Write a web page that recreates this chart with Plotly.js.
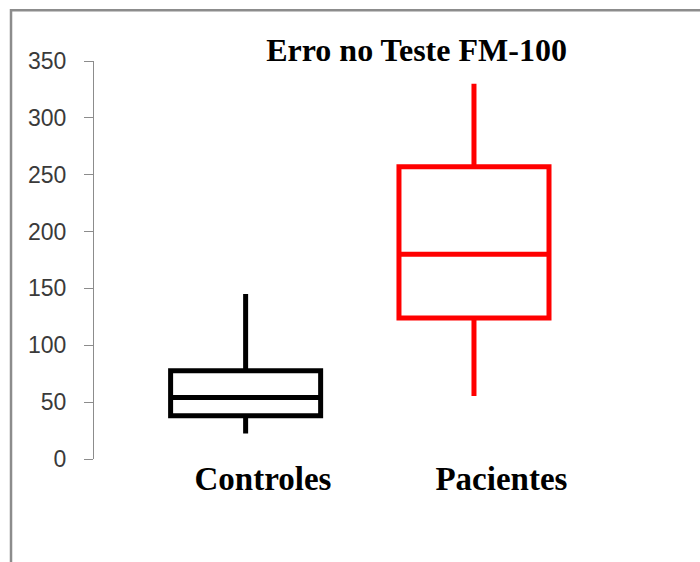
<!DOCTYPE html>
<html>
<head>
<meta charset="utf-8">
<script src="https://cdn.plot.ly/plotly-3.0.1.min.js"></script>
<style>html,body{margin:0;padding:0;background:#fff;}</style>
</head>
<body>
<div id="chart" style="width:700px;height:562px;"></div>
<script>
const categories = ["Controles", "Pacientes"];
const lowerFence = [22.5, 55.5];
const q1Values = [38, 124];
const medianValues = [54, 180];
const q3Values = [77.5, 257];
const upperFence = [145, 330];
const boxColors = ["#000000", "#ff0000"];
const yTickVals = [0, 50, 100, 150, 200, 250, 300, 350];

const labelOffsets = [0.076, 0.12];

const traces = categories.map((c, i) => ({
  type: "box",
  name: c,
  x: [i],
  q1: [q1Values[i]],
  median: [medianValues[i]],
  q3: [q3Values[i]],
  lowerfence: [lowerFence[i]],
  upperfence: [upperFence[i]],
  boxpoints: false,
  width: 0.657,
  whiskerwidth: 0,
  fillcolor: "rgba(255,255,255,0)",
  line: { color: boxColors[i], width: 5 },
  hoverinfo: "skip",
  showlegend: false
}));

const layout = {
  width: 700,
  height: 562,
  margin: { l: 94, r: 60, t: 61, b: 103 },
  paper_bgcolor: "#ffffff",
  plot_bgcolor: "#ffffff",
  showlegend: false,
  title: {
    text: "Erro no Teste FM-100",
    font: { family: "Liberation Serif, Times New Roman, serif", size: 32, weight: "bold", color: "#000000" },
    x: 0.5907, xref: "paper", xanchor: "center",
    y: 0.9116, yref: "container", yanchor: "middle"
  },
  xaxis: {
    range: [-0.664, 1.727],
    tickvals: categories.map((c, i) => i + labelOffsets[i]),
    ticktext: categories,
    showgrid: false, zeroline: false, showline: false,
    ticks: "",
    tickfont: { family: "Liberation Serif, Times New Roman, serif", size: 33, weight: "bold", color: "#000000" },
    ticklabelstandoff: -3,
    fixedrange: true
  },
  yaxis: {
    range: [0, 350],
    tickvals: yTickVals,
    showgrid: false, zeroline: false,
    showline: true, linecolor: "#8c8c8c", linewidth: 1,
    ticks: "outside", ticklen: 9, tickcolor: "#8c8c8c", tickwidth: 1,
    tickfont: { family: "Liberation Sans, Arial, sans-serif", size: 23, color: "#3a3a3a" },
    ticklabelstandoff: 13,
    fixedrange: true
  },
  shapes: [
    { type: "rect", xref: "paper", yref: "paper", x0: -0.1520, x1: 2, y0: -1, y1: 1.1276,
      line: { color: "#8c8c8c", width: 2.5 }, fillcolor: "rgba(0,0,0,0)", layer: "below" }
  ]
};

Plotly.newPlot("chart", traces, layout, { displayModeBar: false, staticPlot: true });
</script>
</body>
</html>
